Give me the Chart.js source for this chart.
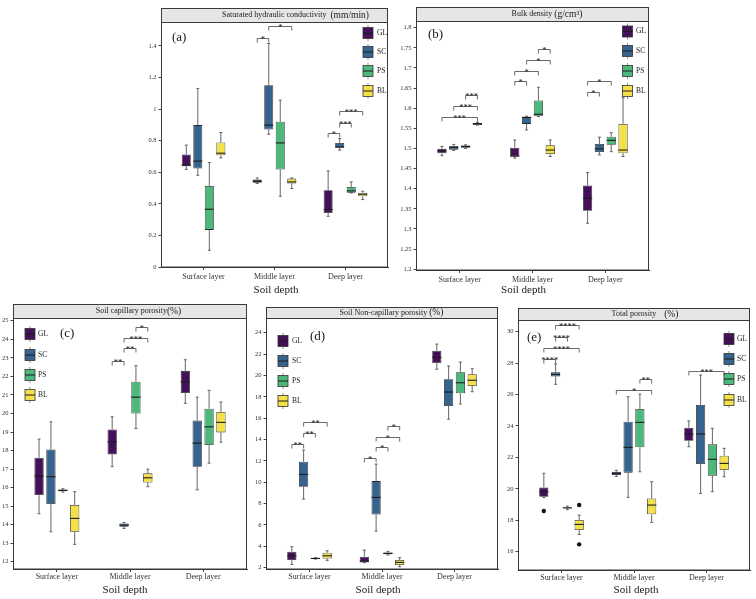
<!DOCTYPE html>
<html><head><meta charset="utf-8">
<script src="https://cdn.jsdelivr.net/npm/chart.js@4.4.0/dist/chart.umd.min.js"></script>
<style>
html,body{margin:0;padding:0;background:#fff;}
#wrap{position:relative;width:756px;height:599px;overflow:hidden;background:#fff;}
canvas{position:absolute;left:0;top:0;}
</style></head><body><div id="wrap">
<canvas id="pa"></canvas><canvas id="pb"></canvas><canvas id="pc"></canvas><canvas id="pd"></canvas><canvas id="pe"></canvas>
</div>
<script>
const layers = ['Surface layer','Middle layer','Deep layer'];
const groups = ['GL','SC','PS','BL'];
// each entry: [lower whisker, Q1, median, Q3, upper whisker] for Surface, Middle, Deep
const ksatGL = [[0.618,0.639,0.646,0.713,0.772],[0.529,0.533,0.543,0.554,0.564],[0.321,0.342,0.364,0.486,0.609]];
const ksatSC = [[0.581,0.624,0.671,0.899,1.131],[0.841,0.871,0.899,1.152,1.416],[0.740,0.755,0.761,0.786,0.814]];
const ksatPS = [[0.106,0.235,0.366,0.514,0.662],[0.448,0.617,0.786,0.920,1.057],[0.469,0.471,0.482,0.507,0.539]];
const ksatBL = [[0.691,0.708,0.721,0.789,0.852],[0.497,0.529,0.539,0.560,0.564],[0.427,0.448,0.461,0.471,0.480]];
const ksatTicks = [0,0.2,0.4,0.6,0.8,1,1.2,1.4];
const ksatTickLabels = ['0','0.2','0.4','0.6','0.8','1','1.2','1.4'];
// significance: [layer, group from, group to, y, label]
const ksatSig = [[1,0,1,1.452,'*'],[1,1,3,1.526,'*'],[2,0,1,0.846,'*'],[2,1,2,0.915,'***'],[2,1,3,0.987,'***']];

const bdGL = [[1.482,1.488,1.494,1.499,1.505],[1.476,1.480,1.481,1.502,1.521],[1.314,1.345,1.376,1.408,1.440]];
const bdSC = [[1.495,1.497,1.502,1.506,1.510],[1.546,1.561,1.577,1.579,1.580],[1.484,1.491,1.499,1.511,1.528]];
const bdPS = [[1.500,1.502,1.505,1.507,1.509],[1.579,1.581,1.585,1.619,1.652],[1.492,1.509,1.520,1.529,1.539]];
const bdBL = [[1.558,1.558,1.561,1.563,1.565],[1.480,1.486,1.496,1.508,1.521],[1.480,1.488,1.496,1.561,1.626]];
const bdTicks = [1.2,1.25,1.3,1.35,1.4,1.45,1.5,1.55,1.6,1.65,1.7,1.75,1.8];
const bdTickLabels = ['1.2','1.25','1.3','1.35','1.4','1.45','1.5','1.55','1.6','1.65','1.7','1.75','1.8'];
const bdSig = [[0,0,3,1.579,'***'],[0,1,3,1.606,'***'],[0,2,3,1.634,'***'],[1,0,1,1.668,'*'],[1,0,2,1.693,'*'],[1,1,3,1.720,'*'],[1,2,3,1.747,'*'],[2,0,1,1.641,'*'],[2,0,2,1.668,'*']];

const cpGL = [[14.59,15.60,16.62,17.61,18.62],[17.13,17.79,18.47,19.14,19.82],[20.55,21.10,21.70,22.30,22.90]];
const cpSC = [[13.62,15.11,16.59,18.06,19.55],[13.80,13.89,13.98,14.07,14.12],[15.88,17.12,18.40,19.62,20.88]];
const cpPS = [[15.76,15.80,15.85,15.90,15.94],[19.19,20.00,20.88,21.71,22.58],[17.32,18.30,19.28,20.26,21.25]];
const cpBL = [[12.94,13.62,14.34,15.06,15.78],[16.05,16.28,16.53,16.77,17.00],[18.45,18.98,19.52,20.08,20.62]];
const cpTicks = [12,13,14,15,16,17,18,19,20,21,22,23,24,25];
const cpTickLabels = ['12','13','14','15','16','17','18','19','20','21','22','23','24','25'];
const cpSig = [[1,0,1,22.83,'**'],[1,1,2,23.51,'**'],[1,1,3,24.09,'***'],[1,2,3,24.68,'*']];

const ncpGL = [[2.31,2.72,3.12,3.50,3.97],[2.47,2.50,2.62,3.03,3.65],[20.58,21.14,21.70,22.32,22.94]];
const ncpSC = [[8.43,9.58,10.74,11.92,13.01],[5.43,6.99,8.58,10.11,11.70],[15.90,17.14,18.45,19.64,20.89]];
const ncpPS = [[2.81,2.83,2.87,2.90,2.94],[3.19,3.25,3.34,3.42,3.53],[17.33,18.33,19.32,20.30,21.26]];
const ncpBL = [[2.69,2.87,3.12,3.40,3.59],[2.09,2.25,2.50,2.72,2.94],[18.48,19.01,19.55,20.11,20.63]];
const ncpTicks = [2,4,6,8,10,12,14,16,18,20,22,24];
const ncpTickLabels = ['2','4','6','8','10','12','14','16','18','20','22','24'];
const ncpSig = [[0,0,1,13.54,'**'],[0,1,2,14.57,'**'],[0,1,3,15.67,'**'],[1,0,1,12.23,'*'],[1,1,2,13.26,'*'],[1,1,3,14.26,'*'],[1,2,3,15.29,'*']];

const tpGL = [[19.45,19.50,19.82,20.09,20.99],[20.79,20.88,20.99,21.09,21.18],[22.68,23.06,23.49,23.89,24.32]];
const tpSC = [[26.65,27.14,27.28,27.41,27.94],[19.46,21.03,22.64,24.27,25.86],[19.71,21.58,23.49,25.33,27.24]];
const tpPS = [[18.68,18.76,18.79,18.82,18.90],[21.09,22.64,24.23,25.08,26.03],[19.82,20.84,21.88,22.83,23.85]];
const tpBL = [[17.10,17.38,17.74,18.02,18.33],[17.87,18.38,18.97,19.39,20.45],[20.77,21.20,21.62,22.11,22.58]];
const tpOutliers = [[0,0,18.59],[0,3,18.97],[0,3,16.47]];
const tpTicks = [16,18,20,22,24,26,28,30];
const tpTickLabels = ['16','18','20','22','24','26','28','30'];
const tpSig = [[0,0,1,28.26,'****'],[0,0,3,28.98,'****'],[0,1,2,29.68,'****'],[0,1,3,30.42,'****'],[1,0,3,26.29,'*'],[1,2,3,26.97,'**'],[2,0,3,27.50,'***']];

const FONT = "'Liberation Serif','Times New Roman',serif";
const COLORS = ['#45105A','#37638F','#4DB87C','#F4E14A'];
const panels = {};

const boxPlugin = {
  id: 'boxExtras',
  beforeDatasetsDraw(chart) {
    const p = panels[chart.canvas.id]; const ctx = chart.ctx; const ys = chart.scales.y;
    ctx.save();
    ctx.strokeStyle = '#555'; ctx.lineWidth = 0.9;
    p.stats.forEach((st, g) => {
      const meta = chart.getDatasetMeta(g);
      st.forEach((s, k) => {
        const el = meta.data[k]; const x = el.x;
        const yLo = ys.getPixelForValue(s[0]), yQ1 = ys.getPixelForValue(s[1]);
        const yQ3 = ys.getPixelForValue(s[3]), yHi = ys.getPixelForValue(s[4]);
        ctx.beginPath();
        ctx.moveTo(x, yQ3); ctx.lineTo(x, yHi);
        ctx.moveTo(x, yQ1); ctx.lineTo(x, yLo);
        ctx.moveTo(x-1.5, yHi); ctx.lineTo(x+1.5, yHi);
        ctx.moveTo(x-1.5, yLo); ctx.lineTo(x+1.5, yLo);
        ctx.stroke();
      });
    });
    ctx.restore();
  },
  afterDatasetsDraw(chart) {
    const p = panels[chart.canvas.id]; const ctx = chart.ctx; const ys = chart.scales.y;
    ctx.save();
    ctx.strokeStyle = '#1c1c1c'; ctx.lineWidth = 1.1;
    p.stats.forEach((st, g) => {
      const meta = chart.getDatasetMeta(g);
      st.forEach((s, k) => {
        const el = meta.data[k]; const y = ys.getPixelForValue(s[2]);
        ctx.beginPath(); ctx.moveTo(el.x - el.width/2, y); ctx.lineTo(el.x + el.width/2, y); ctx.stroke();
      });
    });
    (p.out || []).forEach(o => {
      const el = chart.getDatasetMeta(o[1]).data[o[0]];
      ctx.fillStyle = '#111';
      ctx.beginPath(); ctx.arc(el.x, ys.getPixelForValue(o[2]), 2.2, 0, Math.PI*2); ctx.fill();
    });
    ctx.restore();
  },
  afterDraw(chart) {
    const p = panels[chart.canvas.id]; const ctx = chart.ctx; const ys = chart.scales.y;
    const ca = chart.chartArea;
    ctx.save();
    ctx.fillStyle = '#e6e6e6';
    ctx.fillRect(ca.left, p.S, ca.right - ca.left, ca.top - p.S);
    ctx.strokeStyle = '#3a3a3a'; ctx.lineWidth = 1;
    ctx.strokeRect(ca.left + 0.5, p.S + 0.5, ca.right - ca.left - 1, ca.bottom - p.S - 0.5);
    ctx.beginPath(); ctx.moveTo(ca.left, ca.top + 0.5); ctx.lineTo(ca.right, ca.top + 0.5); ctx.stroke();
    ctx.fillStyle = '#1a1a1a'; ctx.textBaseline = 'middle'; ctx.textAlign = 'left';
    ctx.font = '8px ' + FONT; const w1 = ctx.measureText(p.title[0]).width;
    ctx.font = '9.5px ' + FONT; const w2 = ctx.measureText(p.title[1]).width;
    let tx = p.titleX - (w1 + w2) / 2;
    ctx.font = '8px ' + FONT; ctx.fillText(p.title[0], tx, p.titleY);
    ctx.font = '9.5px ' + FONT; ctx.fillText(p.title[1], tx + w1, p.titleY);
    ctx.font = '13px ' + FONT; ctx.fillText(p.letter, p.letX, p.letY);
    groups.forEach((gname, g) => {
      const cx = p.legX, cy = p.legY[g];
      ctx.strokeStyle = '#777'; ctx.lineWidth = 0.8;
      ctx.beginPath(); ctx.moveTo(cx, cy - 8); ctx.lineTo(cx, cy + 8); ctx.stroke();
      ctx.fillStyle = COLORS[g]; ctx.fillRect(cx - 5, cy - 5.5, 10, 11);
      ctx.strokeStyle = '#333'; ctx.strokeRect(cx - 5, cy - 5.5, 10, 11);
      ctx.strokeStyle = '#1c1c1c'; ctx.lineWidth = 1;
      ctx.beginPath(); ctx.moveTo(cx - 5, cy); ctx.lineTo(cx + 5, cy); ctx.stroke();
      ctx.fillStyle = '#222'; ctx.font = '7.5px ' + FONT; ctx.textAlign = 'left';
      ctx.fillText(gname, p.legLabX, cy);
    });
    ctx.strokeStyle = '#444'; ctx.lineWidth = 0.8;
    p.sig.forEach(sg => {
      const x1 = chart.getDatasetMeta(sg[1]).data[sg[0]].x;
      const x2 = chart.getDatasetMeta(sg[2]).data[sg[0]].x;
      const y = Math.round(ys.getPixelForValue(sg[3])) + 0.5;
      ctx.beginPath(); ctx.moveTo(x1, y + 4); ctx.lineTo(x1, y); ctx.lineTo(x2, y); ctx.lineTo(x2, y + 4); ctx.stroke();
      ctx.fillStyle = '#222'; ctx.font = '8.5px ' + FONT; ctx.textAlign = 'center'; ctx.textBaseline = 'alphabetic';
      ctx.fillText(sg[4], (x1 + x2) / 2, y + 3);
    });
    ctx.fillStyle = '#1a1a1a'; ctx.font = '11px ' + FONT; ctx.textAlign = 'center'; ctx.textBaseline = 'middle';
    ctx.fillText('Soil depth', p.xtX, p.xtY);
    ctx.restore();
  }
};
Chart.register(boxPlugin);

function makePanel(id, p) {
  const yW = 30, xH = 24;
  panels[id] = p;
  const canvas = document.getElementById(id);
  canvas.width = 756; canvas.height = 599;
  const datasets = p.stats.map((st, g) => ({
    label: groups[g],
    data: st.map((s, k) => ({x: k + 1, y: [s[1], s[3]]})),
    backgroundColor: COLORS[g], borderColor: '#2a2a2a', borderWidth: 0.8, borderSkipped: false,
    categoryPercentage: 0.65, barPercentage: 0.78
  }));
  const tickIdx = v => p.ticks.findIndex(t => Math.abs(t - v) < 1e-9);
  new Chart(canvas, {
    type: 'bar',
    data: {datasets},
    options: {
      responsive: false, animation: false, devicePixelRatio: 1,
      layout: {padding: {left: p.L - yW, right: 756 - p.R, top: p.T, bottom: 599 - p.B - xH}},
      plugins: {legend: {display: false}, tooltip: {enabled: false}},
      scales: {
        x: {type: 'linear', min: 0.4, max: 3.6, bounds: 'data', offset: false,
            afterBuildTicks: s => { s.ticks = [1,2,3].map(v => ({value: v})); },
            afterFit: s => { s.height = xH; },
            ticks: {callback: v => layers[Math.round(v) - 1], font: {family: FONT, size: 8}, color: '#333', padding: p.xPad, maxRotation: 0, autoSkip: false},
            grid: {display: true, drawOnChartArea: false, drawTicks: true, tickLength: 3, color: '#444', offset: false},
            border: {display: true, color: '#333', width: 1}},
        y: {type: 'linear', min: p.yMin, max: p.yMax, bounds: 'data',
            afterBuildTicks: s => { s.ticks = p.ticks.map(v => ({value: v})); },
            afterFit: s => { s.width = yW; },
            ticks: {callback: v => p.tickLabels[tickIdx(v)], font: {family: FONT, size: 6.5}, color: '#333', padding: 2, autoSkip: false},
            grid: {display: true, drawOnChartArea: false, drawTicks: true, tickLength: 2.5, color: '#444'},
            border: {display: true, color: '#333', width: 1}}
      }
    }
  });
}

makePanel('pa', {L:161, R:388, S:8, T:22, B:267, yMin:0, yMax:1.552, ticks:ksatTicks, tickLabels:ksatTickLabels,
  stats:[ksatGL, ksatSC, ksatPS, ksatBL], sig:ksatSig, out:[],
  title:['Saturated hydraulic conductivity  ','(mm/min)'], titleX:295.5, titleY:15,
  letter:'(a)', letX:172, letY:38, legX:368, legY:[33,52,71,91], legLabX:377, xtX:276, xtY:290, xPad:2});
makePanel('pb', {L:416, R:649, S:7, T:21, B:270, yMin:1.198, yMax:1.8166, ticks:bdTicks, tickLabels:bdTickLabels,
  stats:[bdGL, bdSC, bdPS, bdBL], sig:bdSig, out:[],
  title:['Bulk density ','(g/cm\u00B3)'], titleX:547, titleY:14,
  letter:'(b)', letX:428, letY:35, legX:627.5, legY:[31.5,51,71,91], legLabX:636, xtX:523.5, xtY:290, xPad:2});
makePanel('pc', {L:13, R:247, S:304, T:318, B:569, yMin:11.61, yMax:25.15, ticks:cpTicks, tickLabels:cpTickLabels,
  stats:[cpGL, cpSC, cpPS, cpBL], sig:cpSig, out:[],
  title:['Soil capillary porosity','(%)'], titleX:138.5, titleY:311,
  letter:'(c)', letX:60, letY:334, legX:30, legY:[334,355,375,395], legLabX:38, xtX:125, xtY:590, xPad:0});
makePanel('pd', {L:266, R:498, S:307, T:318, B:569, yMin:1.88, yMax:25.38, ticks:ncpTicks, tickLabels:ncpTickLabels,
  stats:[ncpGL, ncpSC, ncpPS, ncpBL], sig:ncpSig, out:[],
  title:['Soil Non-capillary porosity ','(%)'], titleX:391.5, titleY:312.5,
  letter:'(d)', letX:310, letY:337, legX:283, legY:[341,361,381,401], legLabX:292, xtX:378, xtY:590, xPad:0});
makePanel('pe', {L:518, R:750, S:308, T:320, B:570, yMin:14.84, yMax:30.74, ticks:tpTicks, tickLabels:tpTickLabels,
  stats:[tpGL, tpSC, tpPS, tpBL], sig:tpSig, out:tpOutliers,
  title:['Total porosity    ','(%)'], titleX:645, titleY:314,
  letter:'(e)', letX:527, letY:338, legX:729, legY:[339,359,379,400], legLabX:737, xtX:636, xtY:590, xPad:0});
</script></body></html>
